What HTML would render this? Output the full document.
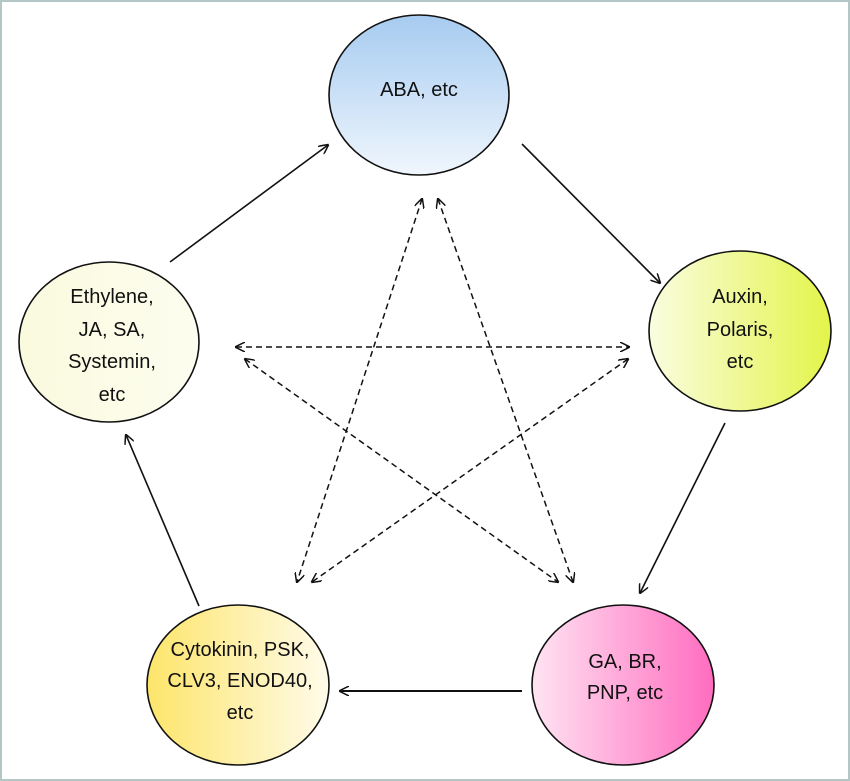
<!DOCTYPE html>
<html><head><style>
html,body{margin:0;padding:0;background:#fff;}
svg{display:block;}
text{font-family:"Liberation Sans",sans-serif;font-size:20px;fill:#111;text-anchor:middle;dominant-baseline:central;}
</style></head><body>
<svg width="850" height="781" viewBox="0 0 850 781" xmlns="http://www.w3.org/2000/svg">
<defs>
<linearGradient id="gTop" x1="0" y1="0" x2="0" y2="1"><stop offset="0" stop-color="#a6cbf0"/><stop offset="1" stop-color="#f0f6fd"/></linearGradient>
<linearGradient id="gLeft" x1="0" y1="0" x2="1" y2="0"><stop offset="0" stop-color="#fafade"/><stop offset="1" stop-color="#fdfdf0"/></linearGradient>
<linearGradient id="gRight" x1="0" y1="0" x2="1" y2="0"><stop offset="0" stop-color="#fafde0"/><stop offset="1" stop-color="#e3f44a"/></linearGradient>
<linearGradient id="gBL" x1="0" y1="0" x2="1" y2="0"><stop offset="0" stop-color="#fde56a"/><stop offset="1" stop-color="#fffbea"/></linearGradient>
<linearGradient id="gBR" x1="0" y1="0" x2="1" y2="0"><stop offset="0" stop-color="#ffe4f3"/><stop offset="1" stop-color="#ff6cbf"/></linearGradient>
<marker id="a" viewBox="0 0 10 10" refX="9" refY="5" markerWidth="10" markerHeight="10" markerUnits="userSpaceOnUse" orient="auto-start-reverse"><path d="M0,0 L10,5 L0,10" fill="none" stroke="#111" stroke-width="1.5"/></marker>
</defs>
<rect x="1" y="1" width="848" height="779" fill="#fff" stroke="#b5c6c6" stroke-width="2"/>
<g fill="none" stroke="#111" stroke-width="1.6">
<line x1="170" y1="262" x2="328" y2="145" marker-end="url(#a)"/>
<line x1="522" y1="144" x2="660" y2="283" marker-end="url(#a)"/>
<line x1="725" y1="423" x2="640" y2="593" marker-end="url(#a)"/>
<line x1="522" y1="691" x2="340" y2="691" marker-end="url(#a)" stroke-width="2"/>
<line x1="199" y1="606" x2="126" y2="435" marker-end="url(#a)"/>
</g>
<g fill="none" stroke="#111" stroke-width="1.5" stroke-dasharray="6,4">
<line x1="236" y1="347" x2="629" y2="347" marker-start="url(#a)" marker-end="url(#a)"/>
<line x1="245" y1="359" x2="558" y2="582" marker-start="url(#a)" marker-end="url(#a)"/>
<line x1="628" y1="359" x2="312" y2="582" marker-start="url(#a)" marker-end="url(#a)"/>
<line x1="422" y1="199" x2="297" y2="582" marker-start="url(#a)" marker-end="url(#a)"/>
<line x1="438" y1="199" x2="573" y2="582" marker-start="url(#a)" marker-end="url(#a)"/>
</g>
<g stroke="#111" stroke-width="1.6">
<ellipse cx="419" cy="95" rx="90" ry="80" fill="url(#gTop)"/>
<ellipse cx="109" cy="342" rx="90" ry="80" fill="url(#gLeft)"/>
<ellipse cx="740" cy="331" rx="91" ry="80" fill="url(#gRight)"/>
<ellipse cx="238" cy="685" rx="91" ry="80" fill="url(#gBL)"/>
<ellipse cx="623" cy="685" rx="91" ry="80" fill="url(#gBR)"/>
</g>
<text x="419" y="90">ABA, etc</text>
<text x="112" y="297">Ethylene,</text>
<text x="112" y="330">JA, SA,</text>
<text x="112" y="362">Systemin,</text>
<text x="112" y="395">etc</text>
<text x="740" y="297">Auxin,</text>
<text x="740" y="330">Polaris,</text>
<text x="740" y="362">etc</text>
<text x="240" y="650">Cytokinin, PSK,</text>
<text x="240" y="681">CLV3, ENOD40,</text>
<text x="240" y="713">etc</text>
<text x="625" y="662">GA, BR,</text>
<text x="625" y="693">PNP, etc</text>
</svg>
</body></html>
